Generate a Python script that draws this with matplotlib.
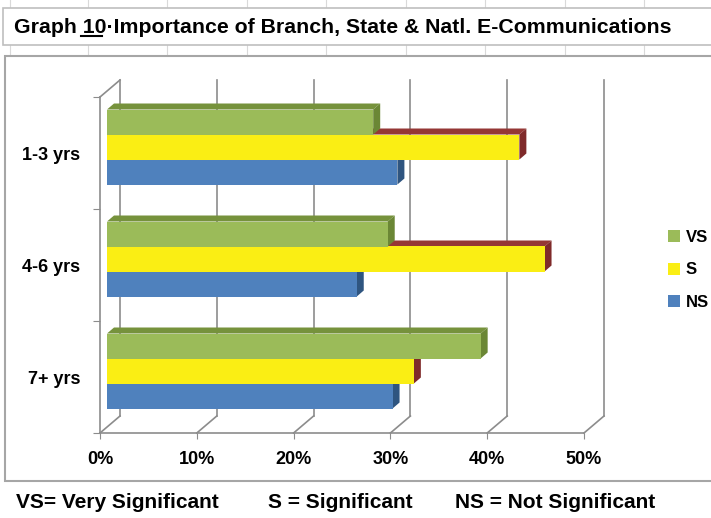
import matplotlib.pyplot as plt
from matplotlib.patches import Polygon, Rectangle
from matplotlib.lines import Line2D

# data
categories = ['1-3 yrs', '4-6 yrs', '7+ yrs']
series = ['VS', 'S', 'NS']
vs_values = [27.5, 29.0, 38.6]
s_values = [42.6, 45.2, 31.7]
ns_values = [30.0, 25.8, 29.5]
x_ticks = [0, 10, 20, 30, 40, 50]
x_tick_labels = ['0%', '10%', '20%', '30%', '40%', '50%']
title_parts = ['Graph ', '10', '\u00b7Importance of Branch, State & Natl. E-Communications']
footnotes = ['VS= Very Significant', 'S = Significant', 'NS = Not Significant']

# colours: front, top, side
front_colors = {'VS': '#9BBB59', 'S': '#FAEE14', 'NS': '#4F81BD'}
top_colors = {'VS': '#76923C', 'S': '#953735', 'NS': '#3A6699'}
side_colors = {'VS': '#6B8735', 'S': '#7F2A2A', 'NS': '#2F5580'}
grid_col = '#8C8C8C'

W, H = 711, 518
plt.rcParams['font.family'] = ['Liberation Sans', 'DejaVu Sans']
fig = plt.figure(figsize=(W / 100, H / 100), dpi=100)


def fx(x):
    return x / W


def fy(y):
    return 1 - y / H


# spreadsheet background: title cell box, column lines, chart area box
for cx in [10, 88, 167, 247, 326, 406, 485, 565, 644]:
    fig.add_artist(Line2D([fx(cx)] * 2, [fy(0), fy(8)], color='#D9D9D9', lw=0.8, zorder=-5))
    fig.add_artist(Line2D([fx(cx)] * 2, [fy(45), fy(56)], color='#D9D9D9', lw=0.8, zorder=-5))
fig.add_artist(Rectangle((fx(3), fy(45)), fx(712), 37 / H, facecolor='white',
                         edgecolor='#BFBFBF', lw=1.2, zorder=-4))
fig.add_artist(Rectangle((fx(5), fy(481)), fx(712), 425 / H, facecolor='white',
                         edgecolor='#A6A6A6', lw=1.5, zorder=-4))

# front plane of the 3-D plot, in pixels: x 100..584, y 97..433
ax = fig.add_axes([fx(100), fy(433), 484 / W, 336 / H])
ax.set_xlim(0, 50)
ax.set_ylim(-0.5, 2.5)
ax.patch.set_alpha(0)

sx = 484 / 50.0   # px per percent
sy = 336 / 3.0    # px per category
wall_dx, wall_dy = 20 / sx, 17 / sy
bar_dx, bar_dy = 7 / sx, 6 / sy
bar_h = 25 / sy

# walls and floor
for t in x_ticks:
    ax.plot([t, t + wall_dx], [-0.5, -0.5 + wall_dy], color=grid_col, lw=1.2, clip_on=False, zorder=1)
    ax.plot([t + wall_dx] * 2, [-0.5 + wall_dy, 2.5 + wall_dy], color=grid_col, lw=1.2,
            clip_on=False, zorder=1)
ax.plot([0, wall_dx], [2.5, 2.5 + wall_dy], color=grid_col, lw=1.2, clip_on=False, zorder=1)

for s in ['top', 'right']:
    ax.spines[s].set_visible(False)
for s in ['left', 'bottom']:
    ax.spines[s].set_color(grid_col)
    ax.spines[s].set_linewidth(1.2)

ax.set_xticks(x_ticks, x_tick_labels)
ax.tick_params(axis='x', length=4, color=grid_col, pad=9, labelsize=13)
ax.set_yticks([-0.5, 0.5, 1.5, 2.5], [])
ax.tick_params(axis='y', which='major', length=5, color=grid_col)
ypos = [2, 1, 0]
ax.set_yticks(ypos, categories, minor=True)
ax.tick_params(axis='y', which='minor', length=0, pad=14, labelsize=13)
for lab in ax.get_xticklabels() + ax.get_yticklabels(minor=True):
    lab.set_fontweight('bold')

# 3-D looking bars: top face, side face, then the front face on top
values = {'VS': vs_values, 'S': s_values, 'NS': ns_values}
offsets = {'VS': bar_h, 'S': 0.0, 'NS': -bar_h}
for i, yc in enumerate(ypos):
    for k, name in enumerate(['NS', 'S', 'VS']):
        v = values[name][i]
        z = 3 + k * 0.1
        yb = yc + offsets[name] + bar_dy
        y0, y1 = yb - bar_h / 2, yb + bar_h / 2
        x0, x1 = bar_dx, bar_dx + v
        ax.add_patch(Polygon([(x0, y1), (x1, y1), (x1 + bar_dx, y1 + bar_dy), (x0 + bar_dx, y1 + bar_dy)],
                             closed=True, facecolor=top_colors[name], lw=0, zorder=z, clip_on=False))
        ax.add_patch(Polygon([(x1, y0), (x1, y1), (x1 + bar_dx, y1 + bar_dy), (x1 + bar_dx, y0 + bar_dy)],
                             closed=True, facecolor=side_colors[name], lw=0, zorder=z + 0.01, clip_on=False))
        ax.barh(yb, v, left=x0, height=bar_h, color=front_colors[name], lw=0, zorder=z + 0.02)

# legend
handles = [Rectangle((0, 0), 1, 1, facecolor=front_colors[n], lw=0) for n in series]
leg = fig.legend(handles, series, loc='center left', bbox_to_anchor=(fx(660), fy(270)),
                 frameon=False, borderpad=0, handlelength=0.7, handleheight=0.7,
                 handletextpad=0.35, labelspacing=1.05, prop={'weight': 'bold', 'size': 12})

# title with the underlined number
tkw = dict(fontsize=15.3, fontweight='bold', va='baseline', ha='left')
fig.text(fx(14), fy(33), ''.join(title_parts), **tkw)
fig.canvas.draw()
r = fig.canvas.get_renderer()
p1 = fig.text(0, 0, title_parts[0] + title_parts[1], **tkw)
p2 = fig.text(0, 0, title_parts[1], **tkw)
w1 = p1.get_window_extent(r).width
w2 = p2.get_window_extent(r).width
p1.remove()
p2.remove()
u_end = 14 + w1
u_start = u_end - w2
fig.add_artist(Line2D([fx(u_start - 2), fx(u_start + 0.8 * w2)], [fy(36)] * 2, color='black', lw=1.5))

# footnote
for x, txt in zip([16, 268, 455], footnotes):
    fig.text(fx(x), fy(503), txt, fontsize=15, fontweight='bold', ha='left', va='center')

fig.savefig('out.png', dpi=100)
